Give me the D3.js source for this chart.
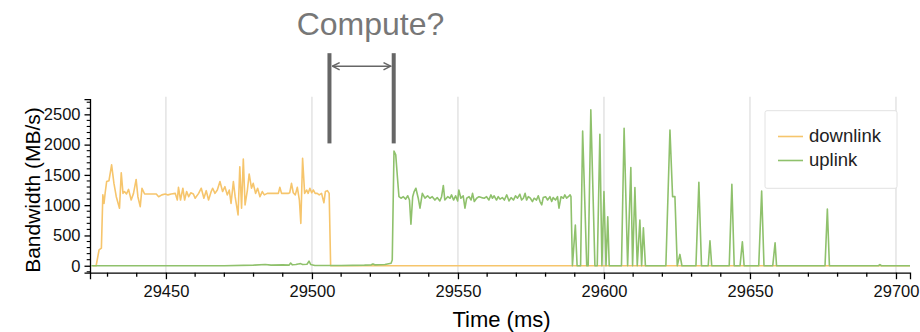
<!DOCTYPE html>
<html>
<head>
<meta charset="utf-8">
<script src="https://cdn.jsdelivr.net/npm/d3@7"></script>
<style>
  html, body { margin: 0; padding: 0; background: #fff; }
  svg { display: block; font-family: "Liberation Sans", Arial, Helvetica, sans-serif; }
</style>
</head>
<body>
<svg id="chart" width="920" height="332"></svg>
<script>
// ---------- data ----------
const seriesNames = ["downlink", "uplink"];
const seriesColors = ["#f6c56c", "#8fc16c"];
const xTicks = [29450, 29500, 29550, 29600, 29650, 29700];
const yTicks = [0, 500, 1000, 1500, 2000, 2500];
const annotationLabel = "Compute?";
const computeStart = 29506;   // downlink ends
const computeEnd = 29528;     // uplink begins

// [time (ms), bandwidth (MB/s)]
const downlink = [
  [29425,0],[29426.1,0],[29427.1,260],[29427.9,290],[29428.4,1170],[29428.8,1030],[29429.2,1205],
  [29429.7,1390],[29430.5,1405],[29431.4,1665],[29432.2,1360],[29433.0,1140],[29434.1,950],
  [29434.7,1535],[29435.3,1195],[29435.8,1225],[29436.5,1185],[29437.2,1260],[29438.1,1085],
  [29438.9,1195],[29439.8,1425],[29440.4,1140],[29441.2,975],[29441.8,1280],[29442.7,1185],
  [29444.4,1185],[29446.7,1185],[29447.5,1140],[29448.6,1170],[29449.8,1185],[29450.7,1170],
  [29451.8,1185],[29453.2,1195],[29453.9,1085],[29454.3,1295],[29455.0,1085],[29455.8,1280],
  [29456.4,1085],[29457.1,1225],[29457.8,1140],[29458.5,1205],[29459.4,1185],[29460.0,1115],
  [29461.2,1195],[29462.1,1280],[29463.0,1115],[29463.8,1240],[29464.6,1085],[29465.5,1225],
  [29466.0,1280],[29466.8,1195],[29467.6,1250],[29468.5,1390],[29469.4,1225],[29470.2,1305],
  [29471.0,1170],[29471.7,1250],[29472.3,1030],[29473.1,1390],[29473.7,1140],[29474.7,840],
  [29475.3,1635],[29475.9,950],[29476.5,1760],[29477.1,1005],[29477.9,1250],[29478.5,1515],
  [29479.3,1280],[29479.9,1360],[29480.7,1195],[29481.4,1280],[29482.2,1140],[29483.0,1225],
  [29483.7,1170],[29484.7,1195],[29486.2,1195],[29487.9,1195],[29488.5,1195],[29489.0,1295],
  [29489.6,1195],[29491.0,1195],[29492.0,1195],[29492.4,1205],[29493.0,1360],[29493.6,1205],
  [29494.3,1170],[29495.0,1295],[29495.7,1085],[29496.2,700],[29496.8,1775],[29497.5,1195],
  [29498.2,1250],[29498.7,1195],[29499.3,1280],[29499.9,1205],[29500.5,1250],[29501.1,1195],
  [29501.8,1195],[29502.5,1170],[29503.3,1195],[29504.1,1040],[29504.6,1225],[29505.3,1240],
  [29505.9,1195],[29506.4,0],[29704.8,0]
];

const uplink = [
  [29424.5,0],[29470,0],[29480,10],[29484,20],[29486,10],[29490,15],[29492.2,10],[29492.7,45],
  [29493.3,15],[29494.5,20],[29495.3,30],[29496.1,35],[29496.8,20],[29498.3,25],[29499.0,75],
  [29499.6,20],[29501,5],[29510,5],[29518,10],[29520.3,15],[29520.9,30],[29521.5,15],[29525.0,20],
  [29527.1,40],[29527.5,95],[29528.1,1895],[29528.7,1830],[29529.3,1445],[29529.8,1140],
  [29530.5,1115],[29531.3,1140],[29532.1,1100],[29532.8,1155],[29533.4,1085],[29533.9,685],
  [29534.5,1140],[29535.0,1225],[29535.6,1280],[29536.4,1115],[29537.0,950],[29537.8,1195],
  [29538.7,1115],[29539.6,1155],[29540.4,1115],[29541.2,1140],[29542.1,1085],[29542.9,1125],
  [29543.8,1070],[29544.4,1140],[29545.0,1325],[29545.5,1085],[29546.5,1140],[29547.3,1115],
  [29547.8,1170],[29548.5,1085],[29549.2,1155],[29549.9,1070],[29550.3,1250],[29551.0,1115],
  [29551.8,1155],[29552.4,950],[29553.0,1115],[29553.8,1140],[29554.5,1085],[29555.0,1195],
  [29555.6,1060],[29556.4,1115],[29557.2,1140],[29558.1,1125],[29559.0,1115],[29559.8,1140],
  [29560.6,1085],[29561.3,1170],[29561.8,1115],[29562.4,1155],[29563.2,1085],[29563.8,1140],
  [29564.4,1100],[29565.2,1125],[29565.9,1085],[29566.7,1170],[29567.5,1070],[29568.2,1125],
  [29569.0,1085],[29569.7,1155],[29570.4,1115],[29571.2,1180],[29571.8,1085],[29572.4,1115],
  [29573.0,1195],[29573.5,1085],[29574.1,1140],[29574.8,1115],[29575.5,1060],[29576.1,1115],
  [29576.9,1085],[29577.5,1155],[29578.1,1060],[29578.7,1005],[29579.2,1125],[29580.0,1140],
  [29580.7,1085],[29581.5,1140],[29582.1,1060],[29582.6,1125],[29583.4,1085],[29584.1,1140],
  [29584.6,950],[29585.3,1140],[29586.1,1115],[29586.6,1170],[29587.2,1115],[29587.8,1140],
  [29588.4,1170],[29588.7,1140],
  [29589.2,0],[29590.2,672],[29590.8,0],[29592.0,0],[29592.7,2226],[29594.1,0],[29594.6,0],
  [29595.5,2573],[29596.9,0],[29597.7,0],[29598.6,2171],[29599.3,0],[29600.0,1223],[29600.7,0],
  [29601.3,810],[29601.8,0],[29606.0,0],[29606.9,2270],[29608.1,0],[29609.2,1620],[29609.8,0],
  [29610.6,1290],[29611.4,0],[29612.3,755],[29612.9,0],[29613.5,628],[29614.2,0],[29621.2,0],
  [29622.6,2242],[29623.5,1141],[29624.3,1141],[29625.1,0],[29626.0,187],[29626.7,0],[29631.5,0],
  [29632.5,1377],[29633.4,0],[29635.7,0],[29636.3,413],[29636.9,0],[29642.9,0],[29643.8,1344],
  [29644.6,0],[29646.6,0],[29647.4,397],[29648.0,0],[29653.0,0],[29654.0,1234],[29654.8,0],
  [29657.8,0],[29658.6,380],[29659.1,0],[29675.7,0],[29676.5,937],[29677.2,0],[29694,0],
  [29694.5,20],[29695,0],[29704.8,0]
];

// ---------- layout ----------
const svg = d3.select("#chart");
const x = d3.scaleLinear().domain([29424, 29704.8]).range([90, 910]);
const y = d3.scaleLinear().domain([-115, 2750]).range([272.7, 99.2]);
const font = '"Liberation Sans", Arial, Helvetica, sans-serif';

// vertical grid lines
svg.append("g").selectAll("line").data(xTicks).join("line")
  .attr("x1", d => x(d)).attr("x2", d => x(d))
  .attr("y1", y(2790)).attr("y2", y(-115))
  .attr("stroke", "#dcdcdc").attr("stroke-width", 1.2);

// lines
const line = d3.line().x(d => x(d[0])).y(d => y(d[1]));
[downlink, uplink].forEach((data, i) => {
  svg.append("path").datum(data)
    .attr("fill", "none")
    .attr("stroke", seriesColors[i])
    .attr("stroke-width", 1.6)
    .attr("stroke-linejoin", "round")
    .attr("d", line);
});

// x axis
const xMinor = d3.range(29430, 29705, 10).filter(v => !xTicks.includes(v));
const xAxisG = svg.append("g").attr("transform", `translate(0,${y(-115)})`);
xAxisG.call(d3.axisBottom(x).tickValues(xTicks).tickFormat(d3.format("d")).tickSize(6.5).tickPadding(6))
  .call(g => g.select(".domain").attr("stroke", "#000").attr("stroke-width", 1.3))
  .call(g => g.selectAll(".tick line").attr("stroke", "#000").attr("stroke-width", 1.3))
  .call(g => g.selectAll("text").attr("font-size", 16.5).attr("font-family", font).attr("fill", "#111"));
xAxisG.append("g").selectAll("line").data(xMinor).join("line")
  .attr("x1", d => x(d)).attr("x2", d => x(d)).attr("y1", 0).attr("y2", 4)
  .attr("stroke", "#000").attr("stroke-width", 1.3);

// y axis
const yMinor = d3.range(-100, 2750, 100).filter(v => !yTicks.includes(v));
const yAxisG = svg.append("g").attr("transform", `translate(${x(29424)},0)`);
yAxisG.call(d3.axisLeft(y).tickValues(yTicks).tickFormat(d3.format("d")).tickSize(5.5).tickPadding(4))
  .call(g => g.select(".domain").attr("stroke", "#000").attr("stroke-width", 1.3))
  .call(g => g.selectAll(".tick line").attr("stroke", "#000").attr("stroke-width", 1.3))
  .call(g => g.selectAll("text").attr("font-size", 16.5).attr("font-family", font).attr("fill", "#111"));
yAxisG.append("g").selectAll("line").data(yMinor).join("line")
  .attr("x1", -3.3).attr("x2", 0).attr("y1", d => y(d)).attr("y2", d => y(d))
  .attr("stroke", "#000").attr("stroke-width", 1.1);

// axis titles
svg.append("text").attr("x", 501.5).attr("y", 326.5).attr("text-anchor", "middle")
  .attr("font-size", 22).attr("font-family", font).attr("fill", "#000").text("Time (ms)");
svg.append("text").attr("transform", "translate(40,190) rotate(-90)").attr("text-anchor", "middle")
  .attr("font-size", 21).attr("font-family", font).attr("fill", "#000").text("Bandwidth (MB/s)");

// legend
const lg = svg.append("g");
lg.append("rect").attr("x", 765).attr("y", 110.7).attr("width", 132).attr("height", 77.6)
  .attr("rx", 2).attr("fill", "#fff").attr("stroke", "#e2e2e2").attr("stroke-width", 1);
seriesNames.forEach((name, i) => {
  const cy = 136.5 + i * 24;
  lg.append("line").attr("x1", 778).attr("x2", 803).attr("y1", cy).attr("y2", cy)
    .attr("stroke", seriesColors[i]).attr("stroke-width", 1.6);
  lg.append("text").attr("x", 809).attr("y", cy + 5.8).attr("font-size", 18.5)
    .attr("font-family", font).attr("fill", "#222").text(name);
});

// annotation
const ann = svg.append("g");
const defs = svg.append("defs");
defs.append("marker").attr("id", "ah").attr("viewBox", "0 0 10 10").attr("refX", 9).attr("refY", 5)
  .attr("markerWidth", 9).attr("markerHeight", 9).attr("markerUnits", "userSpaceOnUse").attr("orient", "auto-start-reverse")
  .append("path").attr("d", "M1,1 L9,5 L1,9").attr("fill", "none").attr("stroke", "#666").attr("stroke-width", 1.6);
[computeStart, computeEnd].forEach(t => {
  ann.append("line").attr("x1", x(t)).attr("x2", x(t)).attr("y1", y(3510)).attr("y2", y(2020))
    .attr("stroke", "#666").attr("stroke-width", 4);
});
ann.append("line").attr("x1", x(computeStart) + 3).attr("x2", x(computeEnd) - 3)
  .attr("y1", y(3295)).attr("y2", y(3295))
  .attr("stroke", "#666").attr("stroke-width", 1.6)
  .attr("marker-start", "url(#ah)").attr("marker-end", "url(#ah)");
ann.append("text").attr("x", 370.5).attr("y", 35).attr("text-anchor", "middle")
  .attr("font-size", 32).attr("font-family", font).attr("fill", "#777").text(annotationLabel);
</script>
</body>
</html>
